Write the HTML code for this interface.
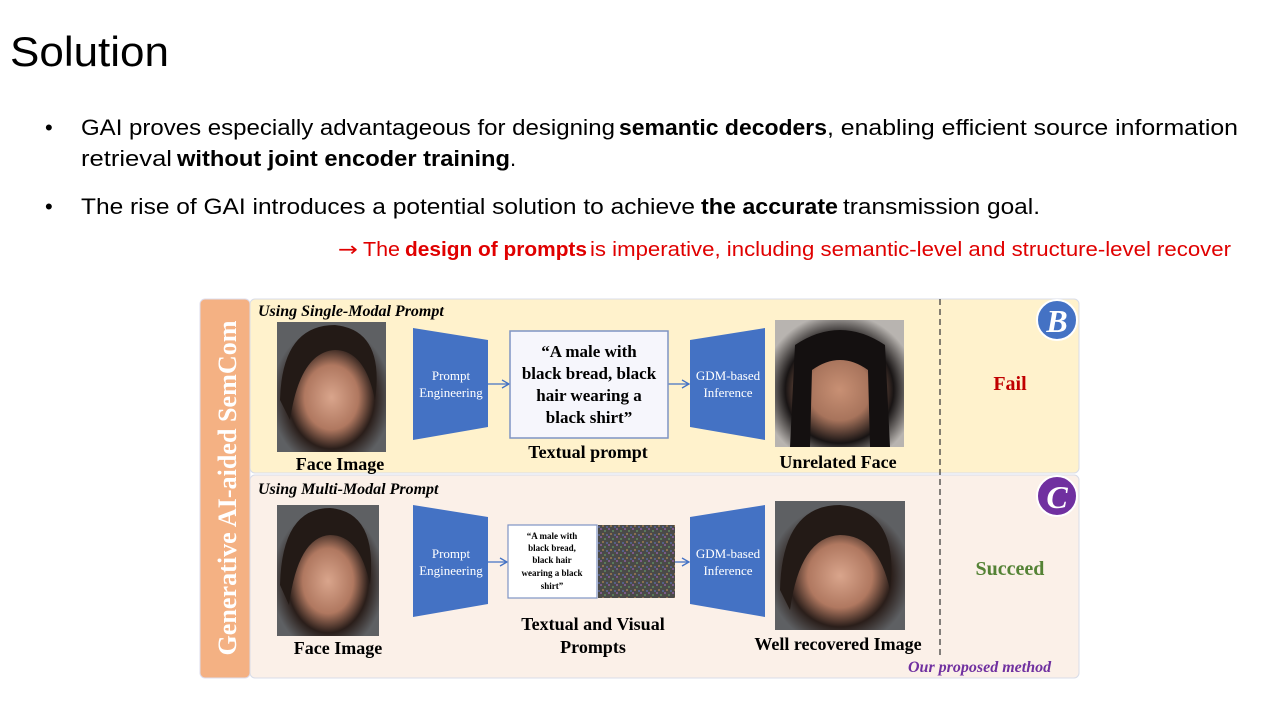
<!DOCTYPE html>
<html><head><meta charset="utf-8"><style>
body{margin:0;background:#fff;width:1280px;height:720px;overflow:hidden}
</style></head><body>
<svg width="1280" height="720" viewBox="0 0 1280 720" xmlns="http://www.w3.org/2000/svg">
<defs>
<radialGradient id="face" cx="50%" cy="58%" r="55%">
<stop offset="0" stop-color="#d9a58c"/><stop offset="0.45" stop-color="#b07860"/><stop offset="0.72" stop-color="#2a1e1a"/><stop offset="1" stop-color="#5e6063"/>
</radialGradient>
<radialGradient id="face2" cx="50%" cy="55%" r="60%">
<stop offset="0" stop-color="#c89074"/><stop offset="0.4" stop-color="#a8745c"/><stop offset="0.7" stop-color="#181414"/><stop offset="1" stop-color="#b8b4b0"/>
</radialGradient>
<pattern id="noise" width="8" height="8" patternUnits="userSpaceOnUse">
<rect width="8" height="8" fill="#4a4a48"/>
<rect x="0" y="0" width="2" height="2" fill="#7a5a8a"/><rect x="4" y="2" width="2" height="2" fill="#5a7a5a"/>
<rect x="2" y="5" width="2" height="2" fill="#8a7050"/><rect x="6" y="6" width="2" height="2" fill="#556088"/>
</pattern>
<marker id="ar" markerWidth="10" markerHeight="10" refX="8" refY="5" orient="auto" markerUnits="userSpaceOnUse"><path d="M1,1 L8,5 L1,9" fill="none" stroke="#4472c4" stroke-width="1.3"/></marker>
</defs>
<g font-family="Liberation Sans, sans-serif" fill="#000">
<text x="10" y="66" font-size="42" textLength="159" lengthAdjust="spacingAndGlyphs">Solution</text>
<text x="45" y="135" font-size="22">•</text>
<text x="81" y="135" font-size="22" textLength="534" lengthAdjust="spacingAndGlyphs">GAI proves especially advantageous for designing</text>
<text x="619" y="135" font-size="22" font-weight="bold" textLength="208" lengthAdjust="spacingAndGlyphs">semantic decoders</text>
<text x="827" y="135" font-size="22" textLength="411" lengthAdjust="spacingAndGlyphs">, enabling efficient source information</text>
<text x="81" y="166" font-size="22" textLength="91" lengthAdjust="spacingAndGlyphs">retrieval</text>
<text x="177" y="166" font-size="22" font-weight="bold" textLength="333" lengthAdjust="spacingAndGlyphs">without joint encoder training</text>
<text x="510" y="166" font-size="22">.</text>
<text x="45" y="214" font-size="22">•</text>
<text x="81" y="214" font-size="22" textLength="614" lengthAdjust="spacingAndGlyphs">The rise of GAI introduces a potential solution to achieve</text>
<text x="701" y="214" font-size="22" font-weight="bold" textLength="137" lengthAdjust="spacingAndGlyphs">the accurate</text>
<text x="843" y="214" font-size="22" textLength="197" lengthAdjust="spacingAndGlyphs">transmission goal.</text>
<g fill="#e00000">
<text x="338" y="256" font-family="DejaVu Sans, sans-serif" font-size="20" textLength="20" lengthAdjust="spacingAndGlyphs">→</text>
<text x="363" y="256" font-size="20" textLength="37" lengthAdjust="spacingAndGlyphs">The</text>
<text x="405" y="256" font-size="20" font-weight="bold" textLength="182" lengthAdjust="spacingAndGlyphs">design of prompts</text>
<text x="590" y="256" font-size="20" textLength="641" lengthAdjust="spacingAndGlyphs">is imperative, including semantic-level and structure-level recover</text>
</g>
</g>

<!-- panels -->
<rect x="200" y="299" width="50" height="379" rx="5" fill="#f4b183" stroke="#dde" stroke-width="1"/>
<text transform="translate(236,488) rotate(-90)" text-anchor="middle" font-family="Liberation Serif, serif" font-weight="bold" font-size="26" fill="#fff" textLength="335" lengthAdjust="spacingAndGlyphs">Generative AI-aided SemCom</text>
<rect x="250" y="299" width="829" height="174" rx="5" fill="#fff2cc" stroke="#d8dce8"/>
<rect x="250" y="475" width="829" height="203" rx="5" fill="#fbf0e8" stroke="#d8dce8"/>
<line x1="940" y1="299" x2="940" y2="655" stroke="#333" stroke-width="1.2" stroke-dasharray="6,4"/>

<g font-family="Liberation Serif, serif" font-weight="bold">
<text x="258" y="316" font-size="16" font-style="italic">Using Single-Modal Prompt</text>
<text x="258" y="494" font-size="16" font-style="italic">Using Multi-Modal Prompt</text>
<text x="908" y="672" font-size="16" font-style="italic" fill="#7030a0">Our proposed method</text>
<text x="1010" y="390" font-size="20" fill="#c00000" text-anchor="middle">Fail</text>
<text x="1010" y="575" font-size="20" fill="#548235" text-anchor="middle">Succeed</text>
<text x="340" y="470" font-size="18" text-anchor="middle">Face Image</text>
<text x="588" y="458" font-size="18" text-anchor="middle">Textual prompt</text>
<text x="838" y="468" font-size="18" text-anchor="middle">Unrelated Face</text>
<text x="338" y="654" font-size="18" text-anchor="middle">Face Image</text>
<text x="593" y="630" font-size="18" text-anchor="middle">Textual and Visual</text>
<text x="593" y="653" font-size="18" text-anchor="middle">Prompts</text>
<text x="838" y="650" font-size="18" text-anchor="middle">Well recovered Image</text>
</g>

<circle cx="1057" cy="320" r="20" fill="#4472c4" stroke="#fff" stroke-width="2"/>
<text x="1057" y="332" text-anchor="middle" font-family="Liberation Serif, serif" font-style="italic" font-weight="bold" font-size="32" fill="#fff">B</text>
<circle cx="1057" cy="496" r="20" fill="#7030a0" stroke="#fff" stroke-width="2"/>
<text x="1057" y="508" text-anchor="middle" font-family="Liberation Serif, serif" font-style="italic" font-weight="bold" font-size="32" fill="#fff">C</text>

<!-- faces -->
<rect x="277" y="322" width="109" height="130" fill="url(#face)"/>
<path d="M280,400 Q282,325 335,325 Q385,330 375,400 Q365,350 335,350 Q300,352 290,420 Z" fill="#231a16"/>
<rect x="277" y="505" width="102" height="131" fill="url(#face)"/>
<path d="M280,585 Q282,508 330,508 Q378,512 370,585 Q360,535 330,535 Q298,537 289,605 Z" fill="#231a16"/>
<rect x="775" y="320" width="129" height="127" fill="url(#face2)"/>
<path d="M790,447 L795,345 Q840,315 885,345 L890,447 L870,447 L868,370 Q840,350 812,370 L810,447 Z" fill="#141010"/>
<rect x="775" y="501" width="130" height="129" fill="url(#face)"/>
<path d="M780,590 Q782,505 840,505 Q900,510 890,590 Q878,535 840,535 Q800,537 790,610 Z" fill="#231a16"/>

<!-- trapezoids -->
<g fill="#4472c4">
<polygon points="413,328 488,340 488,427 413,440"/>
<polygon points="690,340 765,328 765,440 690,427"/>
<polygon points="413,505 488,517 488,604 413,617"/>
<polygon points="690,517 765,505 765,617 690,604"/>
</g>
<g font-family="Liberation Serif, serif" font-size="13" fill="#fff" text-anchor="middle">
<text x="451" y="380">Prompt</text><text x="451" y="397">Engineering</text>
<text x="728" y="380">GDM-based</text><text x="728" y="397">Inference</text>
<text x="451" y="558">Prompt</text><text x="451" y="575">Engineering</text>
<text x="728" y="558">GDM-based</text><text x="728" y="575">Inference</text>
</g>
<g stroke="#4472c4" stroke-width="1.3" marker-end="url(#ar)">
<line x1="488" y1="384" x2="509" y2="384"/>
<line x1="668" y1="384" x2="689" y2="384"/>
<line x1="488" y1="562" x2="507" y2="562"/>
<line x1="675" y1="562" x2="689" y2="562"/>
</g>

<rect x="510" y="331" width="158" height="107" fill="#f6f6fc" stroke="#7f94c4" stroke-width="1.5"/>
<g font-family="Liberation Serif, serif" font-weight="bold" font-size="17" text-anchor="middle">
<text x="589" y="357">“A male with</text>
<text x="589" y="379">black bread, black</text>
<text x="589" y="401">hair wearing a</text>
<text x="589" y="423">black shirt”</text>
</g>
<rect x="508" y="525" width="89" height="73" fill="#fff" stroke="#7f94c4" stroke-width="1.2"/>
<rect x="598" y="525" width="77" height="73" fill="url(#noise)"/>
<g font-family="Liberation Serif, serif" font-weight="bold" font-size="9" text-anchor="middle">
<text x="552" y="539">“A male with</text>
<text x="552" y="551">black bread,</text>
<text x="552" y="563">black hair</text>
<text x="552" y="576">wearing a black</text>
<text x="552" y="589">shirt”</text>
</g>
</svg>
</body></html>
